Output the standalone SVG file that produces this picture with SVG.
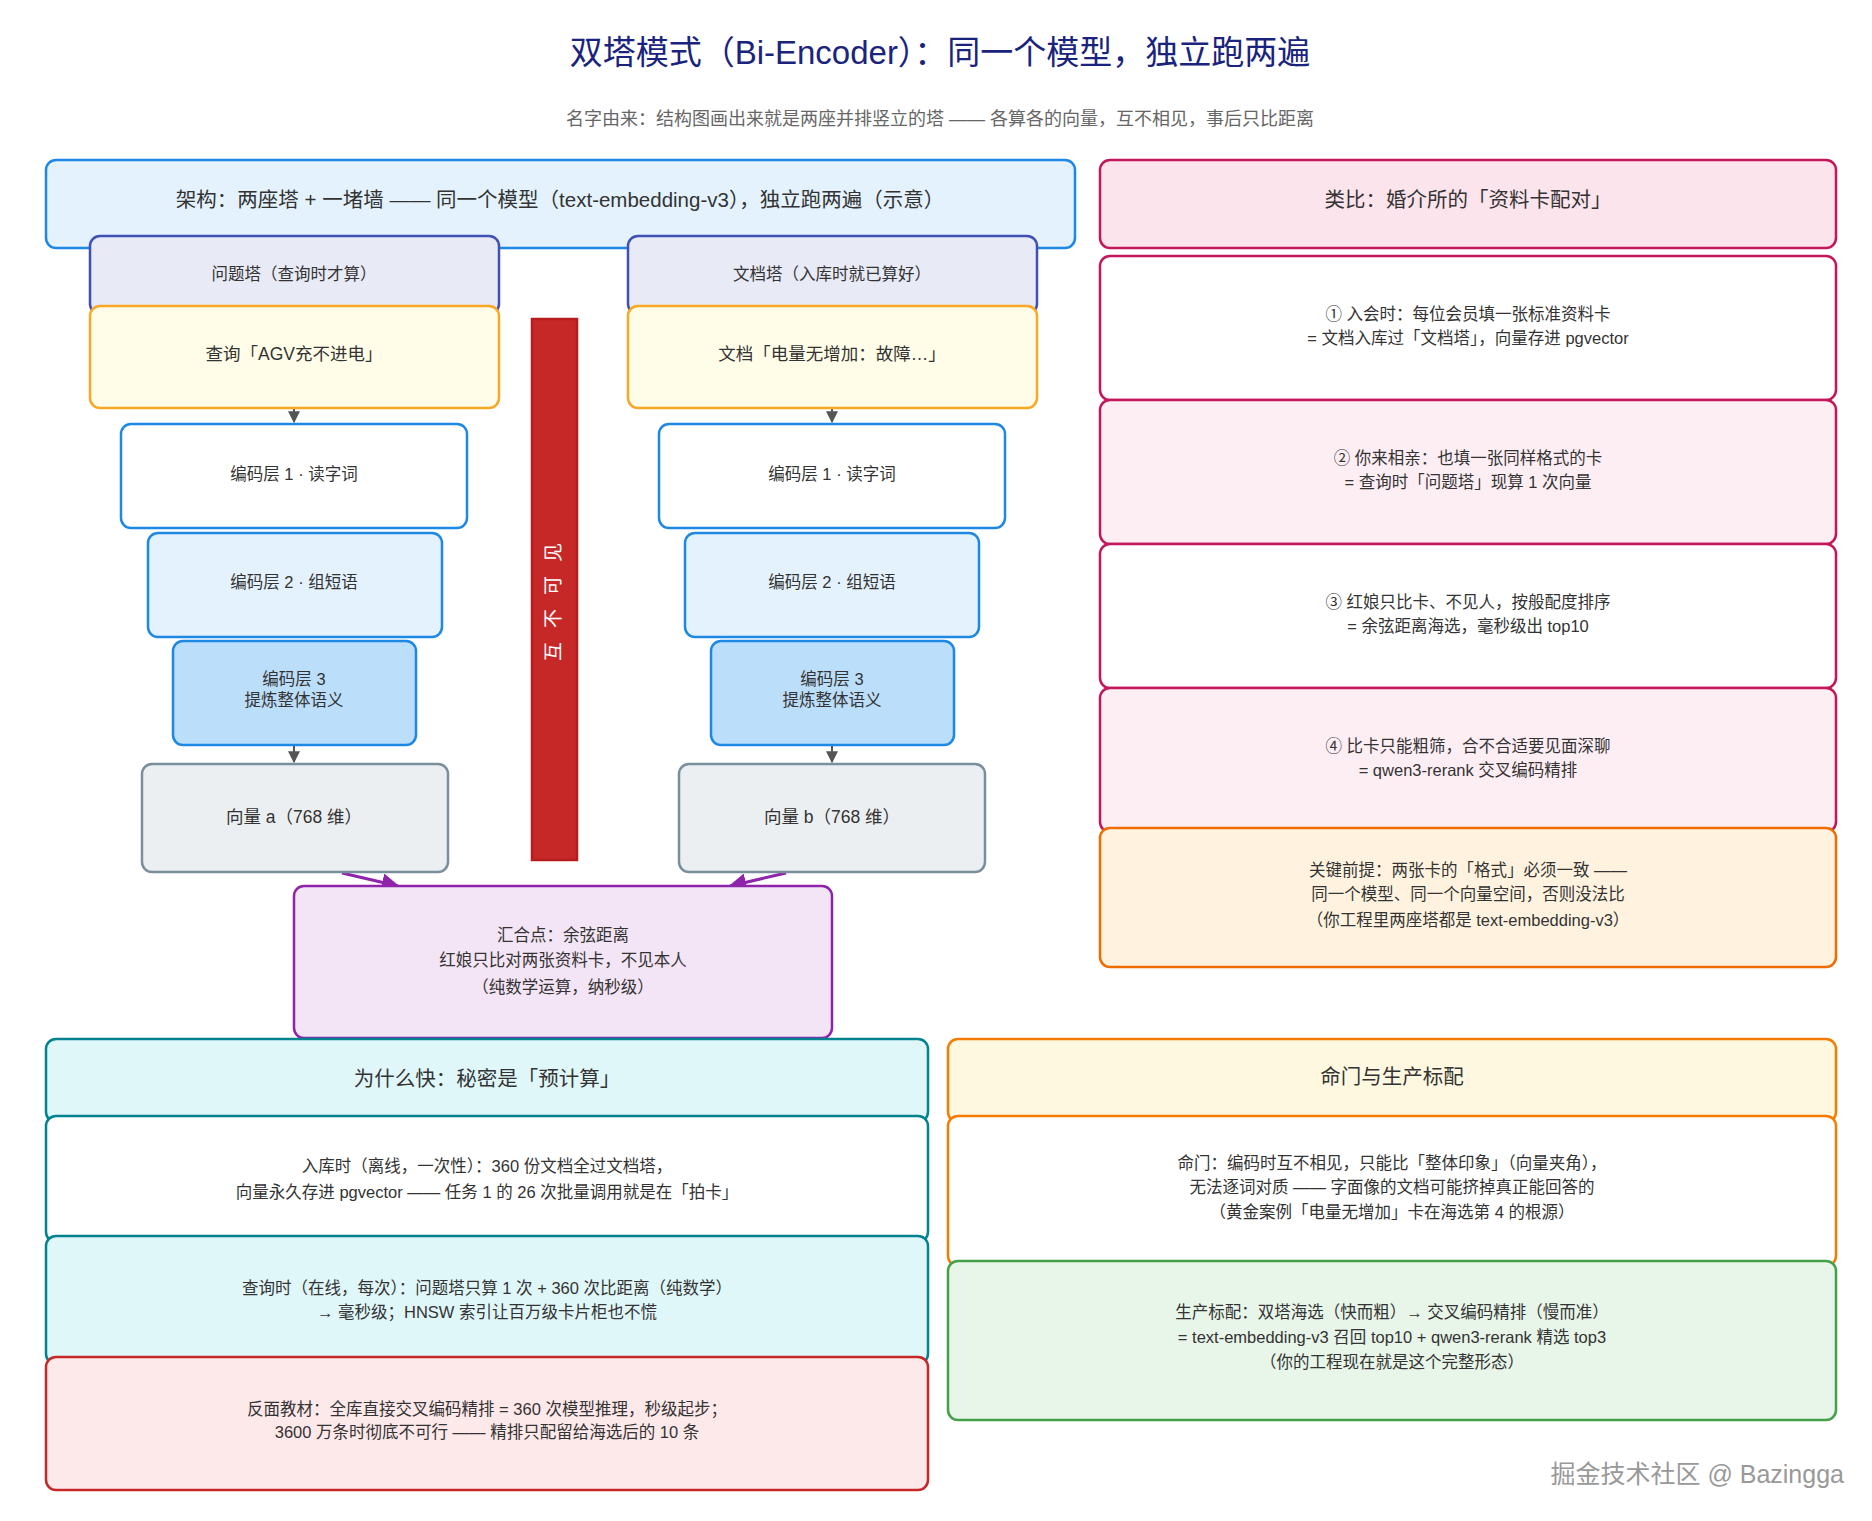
<svg xmlns="http://www.w3.org/2000/svg" width="1872" height="1521" viewBox="0 0 1872 1521">
<style>
text{font-family:"Liberation Sans","Noto Sans CJK SC",sans-serif;fill:#333;text-anchor:middle;dominant-baseline:middle}
.t{font-size:33px;fill:#1a237e}
.s{font-size:18px;fill:#666}
.h{font-size:20.5px}
.b{font-size:17.5px}
.m{font-size:16.5px}
rect{stroke-width:2.5}
</style>
<defs><marker id="ah" viewBox="0 0 10 10" refX="9" refY="5" markerWidth="6" markerHeight="6" orient="auto"><path d="M0,0L10,5L0,10z" fill="#555"/></marker>
<marker id="ap" viewBox="0 0 10 10" refX="9" refY="5" markerWidth="6" markerHeight="6" orient="auto"><path d="M0,0L10,5L0,10z" fill="#8e24aa"/></marker></defs>
<text class="t" x="940" y="55">双塔模式（Bi-Encoder）：同一个模型，独立跑两遍</text>
<text class="s" x="940" y="120">名字由来：结构图画出来就是两座并排竖立的塔 —— 各算各的向量，互不相见，事后只比距离</text>

<g id="arch"><rect x="46" y="160" width="1029" height="88" rx="10" fill="#e3f2fd" stroke="#1e88e5"/><text class="h" x="560" y="202">架构：两座塔 + 一堵墙 —— 同一个模型（text-embedding-v3），独立跑两遍（示意）</text></g>

<g id="connectors">
<line x1="294" y1="408" x2="294" y2="422" stroke="#555" stroke-width="2" marker-end="url(#ah)"/>
<line x1="294" y1="745" x2="294" y2="762" stroke="#555" stroke-width="2" marker-end="url(#ah)"/>
<line x1="832" y1="408" x2="832" y2="422" stroke="#555" stroke-width="2" marker-end="url(#ah)"/>
<line x1="832" y1="745" x2="832" y2="762" stroke="#555" stroke-width="2" marker-end="url(#ah)"/>
<line x1="342" y1="873" x2="398" y2="886" stroke="#8e24aa" stroke-width="3" marker-end="url(#ap)"/>
<line x1="786" y1="873" x2="730" y2="886" stroke="#8e24aa" stroke-width="3" marker-end="url(#ap)"/>
</g>

<g id="qtower"><rect x="90" y="236" width="409" height="78" rx="10" fill="#e8eaf6" stroke="#3f51b5"/><text class="m" x="294" y="276">问题塔（查询时才算）</text></g>
<g id="dtower"><rect x="628" y="236" width="409" height="78" rx="10" fill="#e8eaf6" stroke="#3f51b5"/><text class="m" x="832" y="276">文档塔（入库时就已算好）</text></g>
<g id="query"><rect x="90" y="306" width="409" height="102" rx="10" fill="#fffde7" stroke="#f9a825"/><text class="b" x="294" y="355">查询「AGV充不进电」</text></g>
<g id="doc"><rect x="628" y="306" width="409" height="102" rx="10" fill="#fffde7" stroke="#f9a825"/><text class="b" x="832" y="355">文档「电量无增加：故障…」</text></g>

<g id="ql1"><rect x="121" y="424" width="346" height="104" rx="10" fill="#fff" stroke="#1e88e5"/><text class="m" x="294" y="476">编码层 1 · 读字词</text></g>
<g id="ql2"><rect x="148" y="533" width="294" height="104" rx="10" fill="#e3f2fd" stroke="#1e88e5"/><text class="m" x="294" y="584">编码层 2 · 组短语</text></g>
<g id="ql3"><rect x="173" y="641" width="243" height="104" rx="10" fill="#bbdefb" stroke="#1e88e5"/><text class="m" x="294" y="681">编码层 3</text><text class="m" x="294" y="702">提炼整体语义</text></g>
<g id="va"><rect x="142" y="764" width="306" height="108" rx="10" fill="#eceff1" stroke="#78909c"/><text class="b" x="294" y="818">向量 a（768 维）</text></g>

<g id="dl1"><rect x="659" y="424" width="346" height="104" rx="10" fill="#fff" stroke="#1e88e5"/><text class="m" x="832" y="476">编码层 1 · 读字词</text></g>
<g id="dl2"><rect x="685" y="533" width="294" height="104" rx="10" fill="#e3f2fd" stroke="#1e88e5"/><text class="m" x="832" y="584">编码层 2 · 组短语</text></g>
<g id="dl3"><rect x="711" y="641" width="243" height="104" rx="10" fill="#bbdefb" stroke="#1e88e5"/><text class="m" x="832" y="681">编码层 3</text><text class="m" x="832" y="702">提炼整体语义</text></g>
<g id="vb"><rect x="679" y="764" width="306" height="108" rx="10" fill="#eceff1" stroke="#78909c"/><text class="b" x="832" y="818">向量 b（768 维）</text></g>

<g id="wall"><rect x="532" y="319" width="45" height="541" fill="#c62828" stroke="#b71c1c"/><text class="b" style="fill:#fff;font-size:19px;letter-spacing:14px" transform="translate(555,595) rotate(-90)">互不可见</text></g>

<g id="sum"><rect x="294" y="886" width="538" height="152" rx="10" fill="#f3e5f5" stroke="#8e24aa"/><text class="m" x="563" y="937">汇合点：余弦距离</text><text class="m" x="563" y="962">红娘只比对两张资料卡，不见本人</text><text class="m" x="563" y="989">（纯数学运算，纳秒级）</text></g>

<g id="ana"><rect x="1100" y="160" width="736" height="88" rx="10" fill="#fce4ec" stroke="#c2185b"/><text class="h" x="1468" y="202">类比：婚介所的「资料卡配对」</text></g>
<g id="a1"><rect x="1100" y="256" width="736" height="144" rx="10" fill="#fff" stroke="#c2185b"/><text class="m" x="1468" y="316">① 入会时：每位会员填一张标准资料卡</text><text class="m" x="1468" y="340">= 文档入库过「文档塔」，向量存进 pgvector</text></g>
<g id="a2"><rect x="1100" y="400" width="736" height="144" rx="10" fill="#fdeef4" stroke="#c2185b"/><text class="m" x="1468" y="460">② 你来相亲：也填一张同样格式的卡</text><text class="m" x="1468" y="484">= 查询时「问题塔」现算 1 次向量</text></g>
<g id="a3"><rect x="1100" y="544" width="736" height="144" rx="10" fill="#fff" stroke="#c2185b"/><text class="m" x="1468" y="604">③ 红娘只比卡、不见人，按般配度排序</text><text class="m" x="1468" y="628">= 余弦距离海选，毫秒级出 top10</text></g>
<g id="a4"><rect x="1100" y="688" width="736" height="144" rx="10" fill="#fdeef4" stroke="#c2185b"/><text class="m" x="1468" y="748">④ 比卡只能粗筛，合不合适要见面深聊</text><text class="m" x="1468" y="772">= qwen3-rerank 交叉编码精排</text></g>
<g id="key"><rect x="1100" y="828" width="736" height="139" rx="10" fill="#fff3e0" stroke="#ef6c00"/><text class="m" x="1468" y="872">关键前提：两张卡的「格式」必须一致 ——</text><text class="m" x="1468" y="896">同一个模型、同一个向量空间，否则没法比</text><text class="m" x="1468" y="922">（你工程里两座塔都是 text-embedding-v3）</text></g>

<g id="why"><rect x="46" y="1039" width="882" height="83" rx="10" fill="#e0f7fa" stroke="#00838f"/><text class="h" x="487" y="1081">为什么快：秘密是「预计算」</text></g>
<g id="w1"><rect x="46" y="1116" width="882" height="126" rx="10" fill="#fff" stroke="#00838f"/><text class="m" x="487" y="1168">入库时（离线，一次性）：360 份文档全过文档塔，</text><text class="m" x="487" y="1194">向量永久存进 pgvector —— 任务 1 的 26 次批量调用就是在「拍卡」</text></g>
<g id="w2"><rect x="46" y="1236" width="882" height="128" rx="10" fill="#e0f7fa" stroke="#00838f"/><text class="m" x="487" y="1290">查询时（在线，每次）：问题塔只算 1 次 + 360 次比距离（纯数学）</text><text class="m" x="487" y="1314">→ 毫秒级；HNSW 索引让百万级卡片柜也不慌</text></g>
<g id="w3"><rect x="46" y="1357" width="882" height="133" rx="10" fill="#fde8ea" stroke="#c62828"/><text class="m" x="487" y="1411">反面教材：全库直接交叉编码精排 = 360 次模型推理，秒级起步；</text><text class="m" x="487" y="1434">3600 万条时彻底不可行 —— 精排只配留给海选后的 10 条</text></g>

<g id="fate"><rect x="948" y="1039" width="888" height="83" rx="10" fill="#fff8e1" stroke="#f57c00"/><text class="h" x="1392" y="1079">命门与生产标配</text></g>
<g id="f1"><rect x="948" y="1116" width="888" height="150" rx="10" fill="#fff" stroke="#f57c00"/><text class="m" x="1392" y="1165">命门：编码时互不相见，只能比「整体印象」（向量夹角），</text><text class="m" x="1392" y="1189">无法逐词对质 —— 字面像的文档可能挤掉真正能回答的</text><text class="m" x="1392" y="1214">（黄金案例「电量无增加」卡在海选第 4 的根源）</text></g>
<g id="f2"><rect x="948" y="1261" width="888" height="159" rx="10" fill="#e8f5e9" stroke="#43a047"/><text class="m" x="1392" y="1314">生产标配：双塔海选（快而粗）→ 交叉编码精排（慢而准）</text><text class="m" x="1392" y="1339">= text-embedding-v3 召回 top10 + qwen3-rerank 精选 top3</text><text class="m" x="1392" y="1364">（你的工程现在就是这个完整形态）</text></g>

<text x="1844" y="1476" style="font-size:25px;fill:#999;text-anchor:end">掘金技术社区 @ Bazingga</text>
</svg>
